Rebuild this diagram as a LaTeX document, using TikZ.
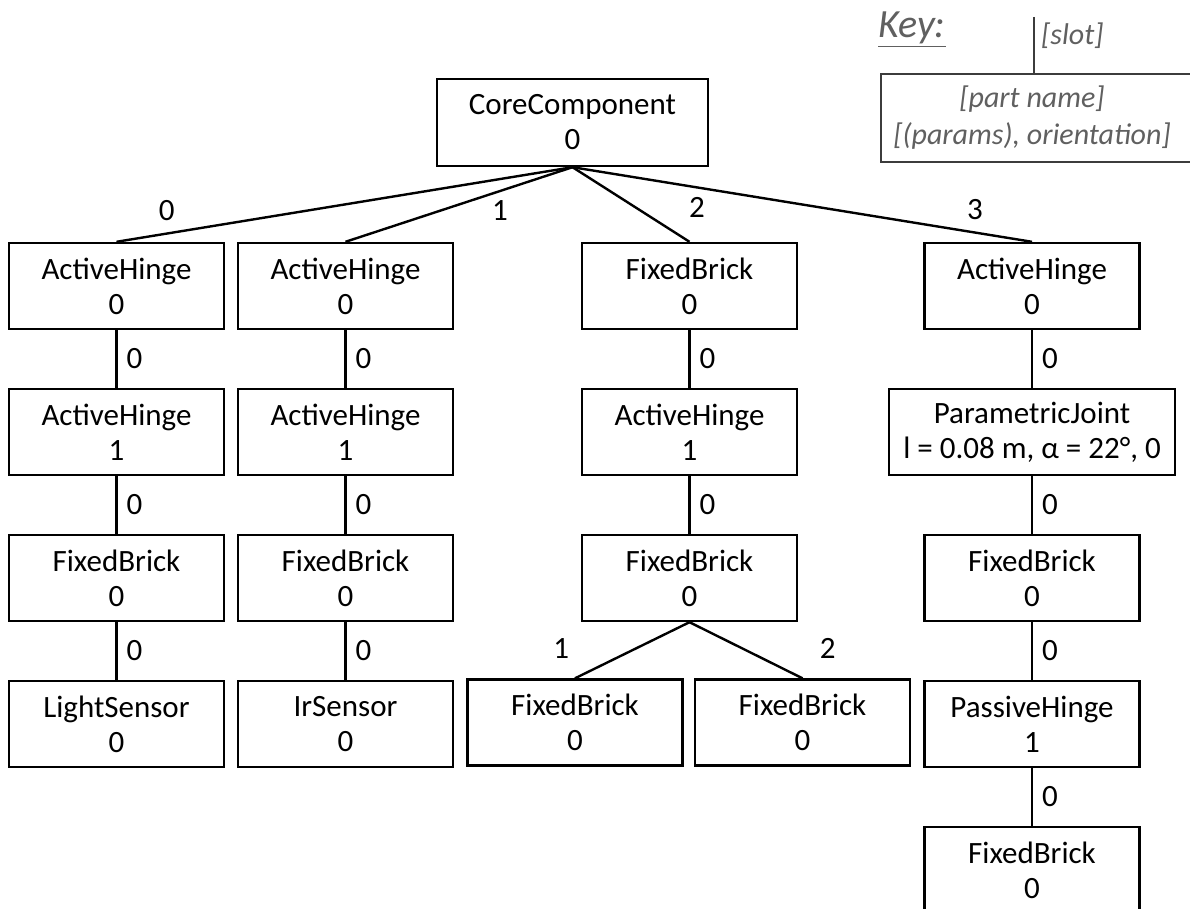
\documentclass[tikz,border=0pt]{standalone}
\usepackage{fontspec}
\setmainfont{Carlito}
\usetikzlibrary{positioning}
\definecolor{keygray}{RGB}{96,96,96}
\definecolor{keyline}{RGB}{60,60,60}

\begin{document}
\begin{tikzpicture}[x=1pt,y=-1pt,line width=2.4pt]
    \tikzset{
      node distance=146pt,
      every node/.style={font=\fontsize{31}{35}\selectfont},
      part/.style={draw, align=center, minimum width=215pt, minimum height=86pt, inner sep=0pt},
      slot/.style={inner sep=4pt},
      keytext/.style={text=keygray, font=\fontsize{30}{37}\selectfont\itshape},
    }
    \useasboundingbox (0,0) rectangle (1190,909);
    \clip (0,0) rectangle (1190,909);

    \node[part, minimum width=271pt, minimum height=87pt] (core) at (572.5,122.5) {CoreComponent\\0};

    \node[part] (h0) at (116.5,286) {ActiveHinge\\0};
    \node[part, below of=h0] (h0b) {ActiveHinge\\1};
    \node[part, below of=h0b] (h0c) {FixedBrick\\0};
    \node[part, below of=h0c] (h0d) {LightSensor\\0};

    \node[part] (h1) at (345.5,286) {ActiveHinge\\0};
    \node[part, below of=h1] (h1b) {ActiveHinge\\1};
    \node[part, below of=h1b] (h1c) {FixedBrick\\0};
    \node[part, below of=h1c] (h1d) {IrSensor\\0};

    \node[part] (b2) at (689.5,286) {FixedBrick\\0};
    \node[part, below of=b2] (b2b) {ActiveHinge\\1};
    \node[part, below of=b2b] (b2c) {FixedBrick\\0};
    \node[part] (b2l) at (575,722.5) {FixedBrick\\0};
    \node[part] (b2r) at (802.5,722.5) {FixedBrick\\0};

    \node[part] (h3) at (1032,286) {ActiveHinge\\0};
    \node[part, minimum width=286pt, below of=h3] (h3b) {ParametricJoint\\l = 0.08 m, α = 22°, 0};
    \node[part, below of=h3b] (h3c) {FixedBrick\\0};
    \node[part, below of=h3c] (h3d) {PassiveHinge\\1};
    \node[part, below of=h3d] (h3e) {FixedBrick\\0};

    \draw
      (core.south) edge node[slot, pos=0.89, above=8pt] {0} (h0.north)
      (core.south) edge node[slot, pos=0.32, below=4pt] {1} (h1.north)
      (core.south) edge node[slot, pos=0.85, above right=8pt and 12pt] {2} (b2.north)
      (core.south) edge node[slot, pos=0.876, above=8pt] {3} (h3.north)
      (h0) edge node[slot, right=5pt] {0} (h0b)
      (h0b) edge node[slot, right=5pt] {0} (h0c)
      (h0c) edge node[slot, right=5pt] {0} (h0d)
      (h1) edge node[slot, right=5pt] {0} (h1b)
      (h1b) edge node[slot, right=5pt] {0} (h1c)
      (h1c) edge node[slot, right=5pt] {0} (h1d)
      (b2) edge node[slot, right=5pt] {0} (b2b)
      (b2b) edge node[slot, right=5pt] {0} (b2c)
      (b2c.south) edge node[slot, pos=0.85, above left=6pt and 18pt] {1} (b2l.north)
      (b2c.south) edge node[slot, pos=0.85, above right=6pt and 29pt] {2} (b2r.north)
      (h3) edge node[slot, right=5pt] {0} (h3b)
      (h3b) edge node[slot, right=5pt] {0} (h3c)
      (h3c) edge node[slot, right=5pt] {0} (h3d)
      (h3d) edge node[slot, right=5pt] {0} (h3e);

    % key
    \node[keytext, font=\fontsize{40}{44}\selectfont\itshape, anchor=base west, inner sep=0pt] (keytitle) at (877,38) {\underline{Key:}};
    \coordinate (keyslot) at (1034,17);
    \node[keytext, anchor=base west, inner sep=0pt] (keyslotlabel) at (1040,45) {[slot]};
    \node[draw=keyline, minimum width=340pt, minimum height=88pt, inner sep=0pt] (keybox) at (1051,118) {};
    \node[keytext, align=center, inner sep=0pt] (keyparts) at (1032,118) {[part name]\\ {[(params), orientation]}};
    \draw[keyline] (keyslot) -- (keyslot |- keybox.north);
\end{tikzpicture}
\end{document}
